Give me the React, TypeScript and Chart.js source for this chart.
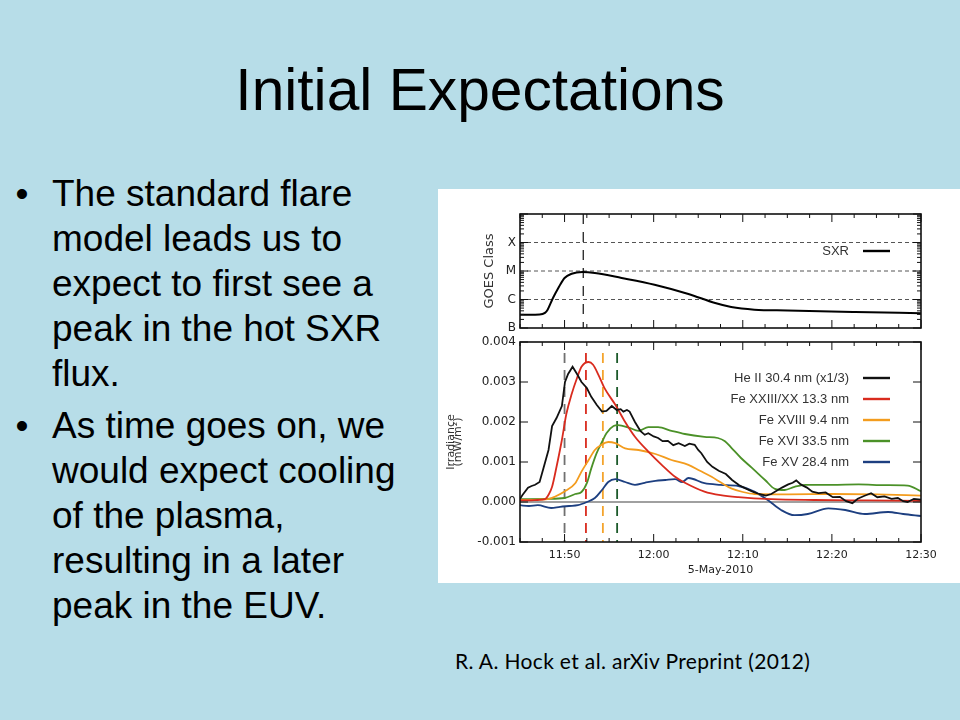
import React, { useEffect, useRef } from 'react';
import { Chart, registerables } from 'chart.js';

Chart.register(...registerables);

// ---------- slide text ----------
const TITLE = 'Initial Expectations';
const BULLET_1 = ['The standard flare', 'model leads us to', 'expect to first see a', 'peak in the hot SXR', 'flux.'];
const BULLET_2 = ['As time goes on, we', 'would expect cooling', 'of the plasma,', 'resulting in a later', 'peak in the EUV.'];
const CITATION = 'R. A. Hock et al. arXiv Preprint (2012)';

// ---------- time axis (minutes after 11:00 UT) ----------
const TIME_MIN = 45;
const TIME_MAX = 90;
const TIME_TICKS = [50, 60, 70, 80, 90];
const TIME_MINOR_STEP = 2.5;
const TIME_TITLE = '5-May-2010';

// ---------- GOES panel ----------
const GOES_LEVELS = [1e-7, 1e-6, 1e-5, 1e-4];
const GOES_CLASSES = ['B', 'C', 'M', 'X'];
const GOES_MIN = 1e-7;
const GOES_MAX = 1e-3;
const GOES_TITLE = 'GOES Class';
const SXR_LABEL = 'SXR';
const SXR_PEAK_TIME = 52.1;
const SXR_FLUX: [number, number][] = [
  [45, 2.9e-7], [46, 2.9e-7], [47.2, 2.95e-7], [47.8, 3.4e-7], [48.1, 4.4e-7],
  [48.7, 1.13e-6], [49.3, 2.54e-6], [50, 5.7e-6], [50.8, 8.0e-6], [52, 9.2e-6],
  [53.4, 8.5e-6], [56.4, 5.7e-6], [60.1, 3.3e-6], [63.9, 1.56e-6], [66.9, 7.5e-7],
  [68.7, 5.45e-7], [71.3, 4.4e-7], [75, 4.1e-7], [82.6, 3.64e-7], [90, 3.28e-7],
];

// ---------- irradiance panel (mW/m^2) ----------
const IRR_MIN = -0.001;
const IRR_MAX = 0.004;
const IRR_TICKS = [-0.001, 0, 0.001, 0.002, 0.003, 0.004];
const IRR_TITLE = ['Irradiance', '(mW/m\u00B2)'];

const HE_II_304: [number, number][] = [
  [45, 0.00008], [45.3, 0.00018], [45.9, 0.00036], [46.3, 0.0004], [46.7, 0.00043],
  [47.2, 0.0005], [47.6, 0.00082], [48.2, 0.0013], [48.6, 0.0019], [49.1, 0.0021],
  [49.7, 0.0024], [50.05, 0.003], [50.4, 0.0032], [50.9, 0.00338], [51.4, 0.0032],
  [51.9, 0.003], [52.5, 0.00285], [53.0, 0.00263], [53.6, 0.00243], [54.2, 0.00226],
  [54.7, 0.00228], [55.3, 0.0024], [55.85, 0.0023], [56.3, 0.00232], [56.6, 0.00226],
  [57.0, 0.0023], [57.3, 0.00226], [57.9, 0.002], [58.5, 0.00178], [59.0, 0.00168],
  [59.4, 0.00172], [60.0, 0.00164], [60.5, 0.0016], [61.0, 0.00152], [61.6, 0.00153],
  [62.2, 0.00142], [62.8, 0.00147], [63.5, 0.0014], [64.0, 0.00146], [64.6, 0.00143],
  [65.0, 0.0013], [65.35, 0.00122], [66.0, 0.001], [66.6, 0.00088], [67.3, 0.00078],
  [68.1, 0.0007], [68.8, 0.00055], [69.6, 0.00042], [70.3, 0.00034], [71.1, 0.00026],
  [71.8, 0.0002], [72.6, 0.00016], [73.2, 0.0002], [73.8, 0.00028], [74.4, 0.00036],
  [75.1, 0.00044], [75.6, 0.00048], [76.0, 0.00054], [76.5, 0.00044], [77.2, 0.00036],
  [77.8, 0.00026], [78.5, 0.00022], [79.3, 0.00024], [80.1, 0.00012], [80.9, 0.00013],
  [81.6, 0.00002], [82.3, -0.00003], [82.9, 0.00008], [83.6, 0.00015], [84.4, 0.00022],
  [85.1, 0.00012], [85.9, 0.00014], [86.7, 0.00008], [87.4, 0.0001], [88.0, 0.00002],
  [88.5, 0.0], [89.2, 0.00008], [90, 0.00006],
];
const FE_XXIII_133: [number, number][] = [
  [45, 0.00004], [46, 0.00004], [47, 0.00005], [47.8, 0.00007], [48.2, 0.00018],
  [48.6, 0.00038], [49.1, 0.00088], [49.7, 0.00155], [50.2, 0.0022], [50.8, 0.0027],
  [51.4, 0.0031], [51.9, 0.00338], [52.7, 0.0035], [53.2, 0.00343], [53.8, 0.00318],
  [54.5, 0.00284], [55.7, 0.00243], [56.8, 0.002], [57.9, 0.00163], [59.4, 0.00126],
  [60.9, 0.00093], [62.4, 0.00063], [63.5, 0.00048], [65.7, 0.00026], [67.5, 0.00017],
  [69.5, 0.00012], [73.2, 0.00007], [78, 0.00005], [84, 0.00004], [90, 0.00003],
];
const FE_XVIII_94: [number, number][] = [
  [45, 0.00005], [47, 0.00006], [48.3, 0.00008], [48.9, 0.00013], [50, 0.00026],
  [51.2, 0.00047], [51.9, 0.00076], [52.7, 0.00105], [53.4, 0.0013], [54.2, 0.00144],
  [54.9, 0.0015], [55.7, 0.00147], [56.8, 0.00134], [58.3, 0.0013], [60.2, 0.0012],
  [62, 0.00105], [63.9, 0.00093], [65.2, 0.00078], [66.5, 0.00063], [67.6, 0.00048],
  [68.7, 0.00034], [70, 0.00025], [71.3, 0.0002], [75.1, 0.00019], [80, 0.0002],
  [85, 0.00019], [90, 0.00016],
];
const FE_XVI_335: [number, number][] = [
  [45, 0.00007], [48, 0.00008], [50, 0.0001], [51.2, 0.0002], [51.9, 0.00025],
  [52.5, 0.00047], [53.0, 0.00084], [53.6, 0.00122], [54.2, 0.0015], [54.7, 0.00172],
  [55.5, 0.0019], [56, 0.00192], [57.2, 0.00186], [58.3, 0.00178], [59.4, 0.00187],
  [60.5, 0.00187], [62, 0.00178], [63.5, 0.0017], [65.7, 0.00163], [67.2, 0.0016],
  [68.0, 0.00152], [68.7, 0.00136], [69.8, 0.0011], [71, 0.00086], [72.5, 0.00055],
  [73.6, 0.00033], [74.7, 0.0003], [75.8, 0.00038], [77, 0.00043], [80, 0.00043],
  [83, 0.00044], [86, 0.00042], [88.5, 0.00041], [90, 0.00027],
];
const FE_XV_284: [number, number][] = [
  [45, -0.00008], [46, -0.0001], [47, -0.00008], [48.5, -0.00015], [49.5, -0.00012],
  [50.5, -0.0001], [51.5, -0.00008], [52.5, 0], [53.4, 0.0001], [54.2, 0.0003],
  [54.9, 0.0005], [55.7, 0.00057], [56.8, 0.0005], [57.9, 0.00043], [59.0, 0.00048],
  [60.2, 0.00053], [61.3, 0.00055], [62.4, 0.00057], [63.2, 0.0005], [63.9, 0.0006],
  [65.7, 0.00047], [67.5, 0.00043], [69.5, 0.0004], [71.3, 0.00026], [72.8, 0.00005],
  [74.3, -0.0002], [75.8, -0.00033], [77.3, -0.0003], [79.6, -0.00016], [81.5, -0.0002],
  [83.7, -0.0003], [86.3, -0.00025], [88, -0.0003], [90, -0.00035],
];

const SERIES_LABELS = ['He II 30.4 nm (x1/3)', 'Fe XXIII/XX 13.3 nm', 'Fe XVIII 9.4 nm', 'Fe XVI 33.5 nm', 'Fe XV 28.4 nm'];
const SERIES_DATA = [HE_II_304, FE_XXIII_133, FE_XVIII_94, FE_XVI_335, FE_XV_284];
const SERIES_COLORS = ['#111111', '#d92b1e', '#f39c1e', '#4b9128', '#1d3f80'];
const SERIES_SMOOTH = [false, true, true, true, true];
const PEAK_TIMES = [50.0, 52.4, 54.3, 55.9];
const PEAK_COLORS = ['#707070', '#d92b1e', '#f4a42c', '#1c5a2a'];

const FONT = '"Liberation Sans", Arial, Helvetica, sans-serif';
const AXIS_FONT = '"DejaVu Sans", Verdana, sans-serif';

const fmtTime = (m: number) => {
  const h = 11 + Math.floor(m / 60);
  const mm = Math.round(m % 60);
  return `${h}:${mm < 10 ? '0' + mm : mm}`;
};

const line = (ctx: CanvasRenderingContext2D, x1: number, y1: number, x2: number, y2: number) => {
  ctx.beginPath();
  ctx.moveTo(x1, y1);
  ctx.lineTo(x2, y2);
  ctx.stroke();
};

function drawFrame(chart: any, yMajor: number[], yMinor: number[]) {
  const { ctx, chartArea: a, scales } = chart;
  const xs = scales.x;
  const ys = scales.y;
  ctx.save();
  ctx.setLineDash([]);
  ctx.strokeStyle = '#111';
  ctx.lineWidth = 1;
  const n = Math.round((TIME_MAX - TIME_MIN) / TIME_MINOR_STEP);
  for (let i = 0; i <= n; i++) {
    const t = TIME_MIN + i * TIME_MINOR_STEP;
    const px = xs.getPixelForValue(t);
    const len = TIME_TICKS.indexOf(t) >= 0 ? 8 : 4;
    line(ctx, px, a.bottom, px, a.bottom - len);
    line(ctx, px, a.top, px, a.top + len);
  }
  for (const v of yMajor) {
    const py = ys.getPixelForValue(v);
    line(ctx, a.left, py, a.left + 8, py);
    line(ctx, a.right, py, a.right - 8, py);
  }
  for (const v of yMinor) {
    const py = ys.getPixelForValue(v);
    line(ctx, a.left, py, a.left + 4, py);
    line(ctx, a.right, py, a.right - 4, py);
  }
  ctx.lineWidth = 1.6;
  ctx.strokeRect(a.left, a.top, a.right - a.left, a.bottom - a.top);
  ctx.restore();
}

function drawLegend(chart: any, firstRow: number, rowStep: number) {
  const { ctx, chartArea: a } = chart;
  ctx.save();
  ctx.font = `13px ${FONT}`;
  ctx.textAlign = 'right';
  ctx.textBaseline = 'middle';
  chart.data.datasets.forEach((ds: any, i: number) => {
    const y = a.top + firstRow + i * rowStep;
    ctx.fillStyle = '#333';
    ctx.fillText(ds.label, a.right - 72, y);
    ctx.strokeStyle = ds.borderColor;
    ctx.lineWidth = 2.4;
    line(ctx, a.right - 58, y, a.right - 31, y);
  });
  ctx.restore();
}

const goesMinor: number[] = [];
for (let d = -7; d <= -4; d++) for (let m = 2; m <= 9; m++) goesMinor.push(m * Math.pow(10, d));

const noEdgePadding = (s: any) => {
  s.paddingTop = 0;
  s.paddingBottom = 0;
  s.paddingLeft = 0;
  s.paddingRight = 0;
};

const topPlugin = {
  id: 'goesDecor',
  beforeDatasetsDraw(chart: any) {
    const { ctx, chartArea: a, scales } = chart;
    ctx.save();
    ctx.setLineDash([4, 3]);
    ctx.strokeStyle = '#555';
    ctx.lineWidth = 1;
    GOES_LEVELS.slice(1).forEach((lv) => {
      const py = scales.y.getPixelForValue(lv);
      line(ctx, a.left, py, a.right, py);
    });
    ctx.setLineDash([10, 8]);
    ctx.strokeStyle = '#222';
    ctx.lineWidth = 1.3;
    const px = scales.x.getPixelForValue(SXR_PEAK_TIME);
    line(ctx, px, a.top, px, a.bottom);
    ctx.restore();
  },
  afterDatasetsDraw(chart: any) {
    drawFrame(chart, [...GOES_LEVELS, GOES_MAX], goesMinor);
    drawLegend(chart, 37, 21);
  },
};

const bottomPlugin = {
  id: 'irrDecor',
  beforeDatasetsDraw(chart: any) {
    const { ctx, chartArea: a, scales } = chart;
    ctx.save();
    ctx.strokeStyle = '#808080';
    ctx.lineWidth = 1.6;
    const zy = scales.y.getPixelForValue(0);
    line(ctx, a.left, zy, a.right, zy);
    ctx.setLineDash([10, 7]);
    ctx.lineDashOffset = -2;
    ctx.lineWidth = 1.8;
    PEAK_TIMES.forEach((t, i) => {
      const px = scales.x.getPixelForValue(t);
      ctx.strokeStyle = PEAK_COLORS[i];
      line(ctx, px, a.top + 9, px, a.bottom);
    });
    ctx.restore();
  },
  afterDatasetsDraw(chart: any) {
    drawFrame(chart, IRR_TICKS, []);
    drawLegend(chart, 36, 21);
  },
};

export default function App() {
  const topRef = useRef<HTMLCanvasElement>(null);
  const botRef = useRef<HTMLCanvasElement>(null);

  useEffect(() => {
    const top = new Chart(topRef.current as HTMLCanvasElement, {
      type: 'line',
      data: {
        datasets: [
          {
            label: SXR_LABEL,
            data: SXR_FLUX.map(([t, v]) => ({ x: t, y: v })),
            borderColor: '#000',
            borderWidth: 2,
            pointRadius: 0,
            cubicInterpolationMode: 'monotone',
            fill: false,
          },
        ],
      },
      options: {
        responsive: false,
        animation: false,
        events: [],
        layout: { padding: { top: 25, right: 39, bottom: 12, left: 0 } },
        plugins: { legend: { display: false }, tooltip: { enabled: false } },
        scales: {
          x: { type: 'linear', min: TIME_MIN, max: TIME_MAX, display: false },
          y: {
            type: 'logarithmic',
            min: GOES_MIN,
            max: GOES_MAX,
            afterBuildTicks: (s: any) => {
              s.ticks = GOES_LEVELS.map((v) => ({ value: v }));
            },
            afterFit: (s: any) => {
              s.width = 82;
              noEdgePadding(s);
            },
            grid: { display: false, drawTicks: false },
            border: { display: false },
            ticks: {
              autoSkip: false,
              padding: 4,
              color: '#222',
              font: { family: AXIS_FONT, size: 12 },
              callback: (v: any) => {
                const i = GOES_LEVELS.findIndex((l) => Math.abs(Math.log10(l) - Math.log10(Number(v))) < 1e-6);
                return i >= 0 ? GOES_CLASSES[i] : '';
              },
            },
            title: {
              display: true,
              text: GOES_TITLE,
              color: '#333',
              font: { family: AXIS_FONT, size: 13 },
              padding: { top: 44, bottom: 0 },
            },
          },
        },
      } as any,
      plugins: [topPlugin],
    });

    const bottom = new Chart(botRef.current as HTMLCanvasElement, {
      type: 'line',
      data: {
        datasets: SERIES_DATA.map((d, i) => ({
          label: SERIES_LABELS[i],
          data: d.map(([t, v]) => ({ x: t, y: v })),
          borderColor: SERIES_COLORS[i],
          borderWidth: 1.8,
          pointRadius: 0,
          cubicInterpolationMode: SERIES_SMOOTH[i] ? 'monotone' : 'default',
          tension: 0,
          fill: false,
        })),
      },
      options: {
        responsive: false,
        animation: false,
        events: [],
        layout: { padding: { top: 8, right: 39, bottom: 0, left: 0 } },
        plugins: { legend: { display: false }, tooltip: { enabled: false } },
        scales: {
          x: {
            type: 'linear',
            min: TIME_MIN,
            max: TIME_MAX,
            afterBuildTicks: (s: any) => {
              s.ticks = TIME_TICKS.map((v) => ({ value: v }));
            },
            afterFit: (s: any) => {
              s.height = 41;
              noEdgePadding(s);
            },
            grid: { display: false, drawTicks: false },
            border: { display: false },
            ticks: {
              autoSkip: false,
              maxRotation: 0,
              padding: 7,
              color: '#222',
              font: { family: AXIS_FONT, size: 11 },
              callback: (v: any) => fmtTime(Number(v)),
            },
            title: {
              display: true,
              text: TIME_TITLE,
              color: '#222',
              font: { family: AXIS_FONT, size: 11 },
              padding: { top: 0, bottom: 6.5 },
            },
          },
          y: {
            type: 'linear',
            min: IRR_MIN,
            max: IRR_MAX,
            afterBuildTicks: (s: any) => {
              s.ticks = IRR_TICKS.map((v) => ({ value: v }));
            },
            afterFit: (s: any) => {
              s.width = 82;
              noEdgePadding(s);
            },
            grid: { display: false, drawTicks: false },
            border: { display: false },
            ticks: {
              autoSkip: false,
              padding: 4,
              color: '#222',
              font: { family: AXIS_FONT, size: 12 },
              callback: (v: any) => Number(v).toFixed(3),
            },
            title: {
              display: true,
              text: IRR_TITLE,
              color: '#333',
              font: { family: AXIS_FONT, size: 11, lineHeight: 0.72 },
              padding: { top: 8.7, bottom: 0 },
            },
          },
        },
      } as any,
      plugins: [bottomPlugin],
    });

    return () => {
      top.destroy();
      bottom.destroy();
    };
  }, []);

  const bulletBlock = (lines: string[], baseline: number) => (
    <div style={{ position: 'absolute', left: 0, top: baseline - 35.3, fontSize: 37, lineHeight: '45px' }}>
      <div style={{ position: 'absolute', left: 15.5, top: 0, whiteSpace: 'nowrap' }}>{'\u2022'}</div>
      {lines.map((l, i) => (
        <div key={i} style={{ position: 'absolute', left: 52, top: i * 45, whiteSpace: 'nowrap' }}>
          {l}
        </div>
      ))}
    </div>
  );

  return (
    <div
      style={{
        position: 'fixed',
        left: 0,
        top: 0,
        width: 960,
        height: 720,
        background: '#b7dde8',
        overflow: 'hidden',
        fontFamily: FONT,
        color: '#000',
      }}
    >
      <div
        style={{
          position: 'absolute',
          left: 0,
          width: 960,
          top: 61.3,
          fontSize: 58.7,
          lineHeight: '58.7px',
          textAlign: 'center',
          whiteSpace: 'nowrap',
        }}
      >
        {TITLE}
      </div>
      {bulletBlock(BULLET_1, 206.7)}
      {bulletBlock(BULLET_2, 438.3)}
      <div style={{ position: 'absolute', left: 438, top: 189, width: 522, height: 394, background: '#fff', overflow: 'hidden' }}>
        <canvas ref={topRef} width={522} height={151} style={{ position: 'absolute', left: 0, top: 0, width: 522, height: 151 }} />
        <canvas ref={botRef} width={522} height={249} style={{ position: 'absolute', left: 0, top: 145, width: 522, height: 249 }} />
      </div>
      <div
        style={{
          position: 'absolute',
          left: 455,
          top: 650.4,
          fontFamily: 'Lato, "Open Sans", sans-serif',
          fontSize: 21,
          lineHeight: '21px',
          letterSpacing: '0.35px',
          whiteSpace: 'nowrap',
        }}
      >
        {CITATION}
      </div>
    </div>
  );
}
